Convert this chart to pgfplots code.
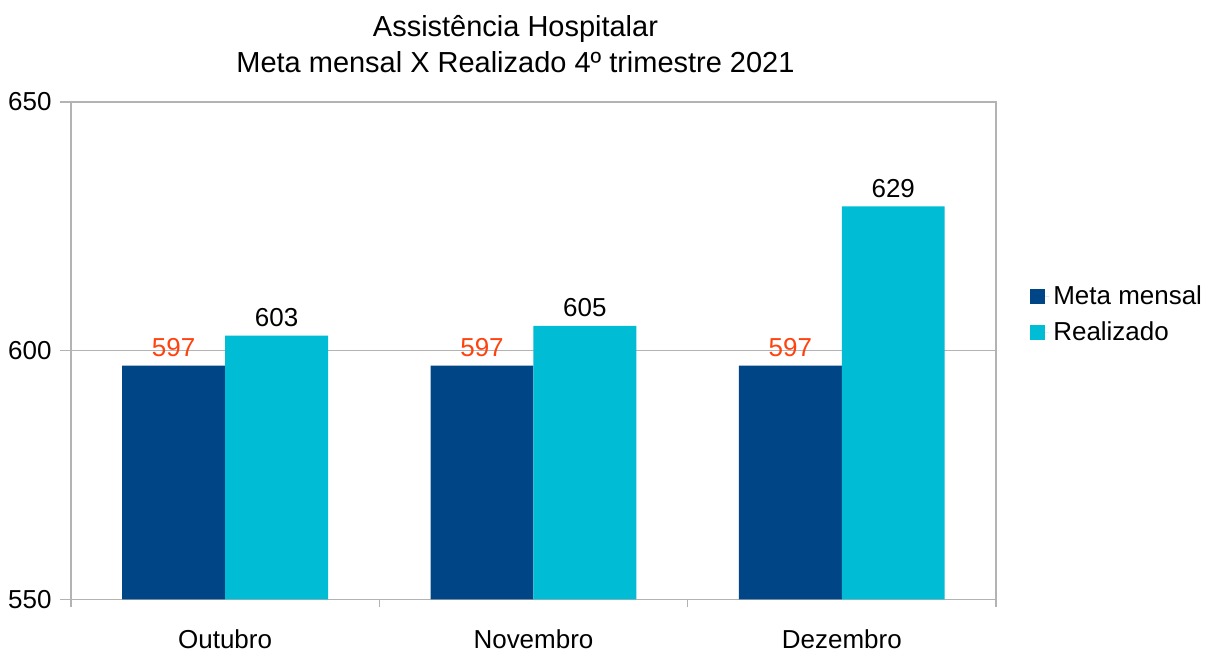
\documentclass[border=0pt]{standalone}
\usepackage{fontspec}
\setmainfont{Liberation Sans}
\usepackage{pgfplots}
\pgfplotsset{compat=1.18}
\definecolor{metaBlue}{HTML}{004586}
\definecolor{realCyan}{HTML}{00BCD4}
\definecolor{lblRed}{HTML}{FF420E}
\definecolor{gridGrey}{HTML}{B3B3B3}
\begin{document}
\begin{tikzpicture}
\begin{axis}[
  at={(0pt,0pt)}, anchor=south west,
  scale only axis, width=463pt, height=249pt,
  xmin=-0.5, xmax=2.5, ymin=550, ymax=650,
  ytick={550,600,650},
  xtick={0,1,2},
  xticklabels={Outubro,Novembro,Dezembro},
  minor xtick={-0.5,0.5,1.5,2.5},
  major x tick style={draw=none},
  xtick pos=bottom, ytick pos=left,
  tick align=outside,
  major tick length=5.5pt, minor tick length=4pt,
  tick style={gridGrey, line width=0.7pt},
  axis line style={gridGrey, line width=0.7pt},
  ymajorgrids, grid style={gridGrey, line width=0.6pt},
  tick label style={font=\fontsize{13}{15}\selectfont},
  /pgf/number format/assume math mode=true,
  xticklabel style={yshift=-6pt},
  yticklabel style={xshift=-0.7pt},
  ybar, bar width=51.5pt,
  nodes near coords,
  every node near coord/.append style={font=\fontsize{13}{15}\selectfont, yshift=1pt},
  legend style={at={(1.0367,0.572)}, anchor=west, draw=none, fill=none,
    font=\fontsize{13}{15}\selectfont, row sep=3pt, inner sep=0pt,
    cells={anchor=west}},
  legend image code/.code={\path (0pt,0pt) -- (9.5pt,0pt);
    \fill (0pt,-3.75pt) rectangle (7.5pt,3.75pt);},
  clip=true,
]
\addplot[fill=metaBlue, draw=none, bar shift=-25.75pt,
  every node near coord/.append style={text=lblRed}]
  coordinates {(0,597) (1,597) (2,597)};
\addlegendentry{Meta mensal}
\addplot[fill=realCyan, draw=none, bar shift=25.75pt,
  every node near coord/.append style={text=black}]
  coordinates {(0,603) (1,605) (2,629)};
\addlegendentry{Realizado}
\end{axis}
\node[font=\fontsize{14.5}{18}\selectfont, align=center] at (222.5pt,278pt)
  {Assistência Hospitalar\\Meta mensal X Realizado 4º trimestre 2021};
\path (-35.5pt,-23pt) rectangle (567.5pt,300pt);
\end{tikzpicture}
\end{document}
